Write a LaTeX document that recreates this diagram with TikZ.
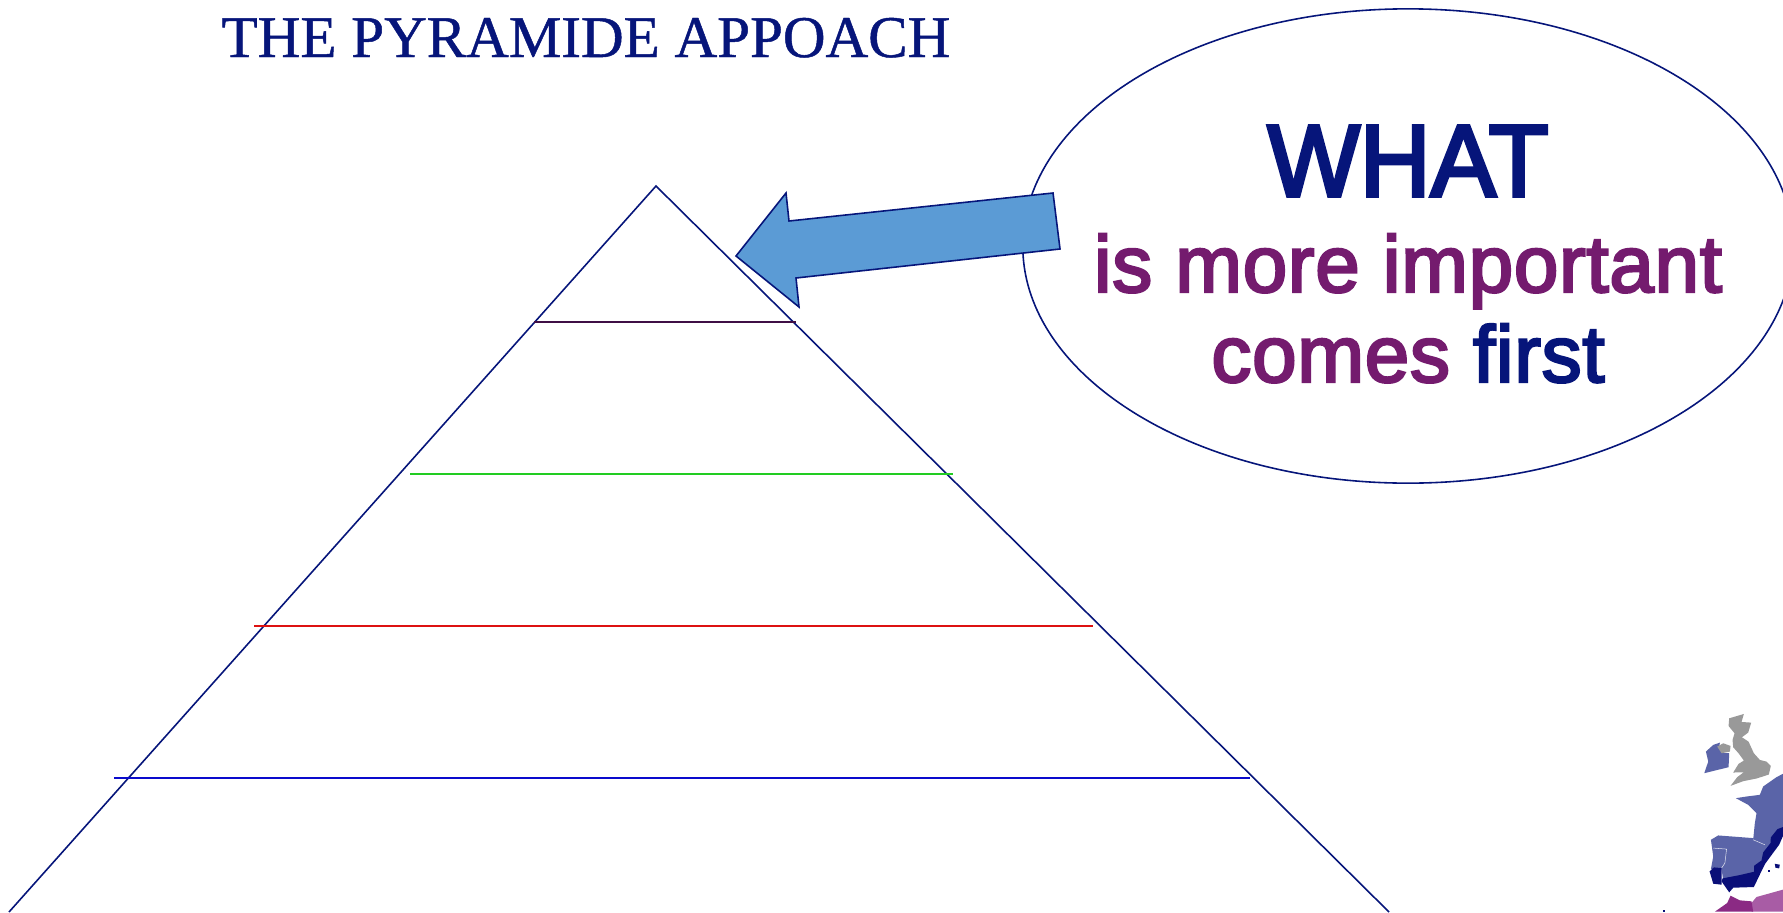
\documentclass[tikz,border=0pt]{standalone}
\usepackage{fontspec}
\setmainfont{Liberation Serif}
\newfontfamily\titlefont[FakeBold=0.8]{Liberation Serif}
\newfontfamily\whatface[FakeStretch=0.96, FakeBold=3.5]{Liberation Sans}
\newfontfamily\calloutfont[FakeBold=3, LetterSpace=0.8]{Liberation Sans}
\usetikzlibrary{positioning, shapes.geometric}
\definecolor{slidenavy}{HTML}{06157A}
\definecolor{slidepurple}{HTML}{741B6E}
\definecolor{arrowblue}{HTML}{5B9BD5}
\definecolor{leveldark}{HTML}{3F0F45}
\definecolor{levelgreen}{HTML}{22CC22}
\definecolor{levelred}{HTML}{DD1111}
\definecolor{levelblue}{HTML}{0A0ACC}
\definecolor{mapgrey}{HTML}{999999}
\definecolor{mapblue}{HTML}{5A64A8}
\definecolor{mapdark}{HTML}{0A0F78}
\definecolor{mapplum}{HTML}{8B2A84}
\definecolor{maplilac}{HTML}{A85CA5}
\tikzset{
  outline/.style={draw=slidenavy, line width=0.45pt},
  level/.style={line width=0.5pt},
  whatfont/.style={font=\whatface\fontsize{29}{29}\selectfont, text=slidenavy},
  linefont/.style={font=\calloutfont\fontsize{22.8}{22.8}\selectfont, text=slidepurple},
  mapborder/.style={draw=white!80!mapblue, line width=0.15pt, line join=round},
}
\begin{document}
\begin{tikzpicture}[x=0.01cm, y=-0.01cm]
  \clip (0,0) rectangle (1783,912);
  \fill [white] (0,0) rectangle (1783,912);
  \node [anchor=base, text=slidenavy, font=\titlefont\fontsize{16.8}{16.8}\selectfont, inner sep=0pt] (title) at (586,57) {THE PYRAMIDE APPOACH};
  \coordinate (apex) at (656,186);
  \coordinate (baseleft) at (9,912);
  \coordinate (baseright) at (1389,912);
  \draw [outline] (baseleft) -- (apex) -- (baseright);
  \draw [level, leveldark] (534,322) -- (796,322);
  \draw [level, levelgreen] (410,474) -- (953,474);
  \draw [level, levelred] (254,626) -- (1093,626);
  \draw [level, levelblue] (114,778) -- (1250,778);
  \node [outline, ellipse, minimum width=7.7cm, minimum height=4.74cm, inner sep=0pt] (bubble) at (1408,246) {};
  \draw [outline, fill=arrowblue, line join=miter] (736,256) -- (786,193) -- (789,221) -- (1053,193) -- (1060,249) -- (796,278) -- (799,307) -- cycle;
  \node [whatfont, anchor=base, inner sep=0pt] (what) at (1408,196) {WHAT};
  \node [linefont, anchor=base, inner sep=0pt] (important) at (1408,292) {is more important};
  \node [linefont, anchor=base, inner sep=0pt] (comes) at (1408,382) {comes \textcolor{slidenavy}{first}};
  \begin{scope}[shift={(1640,690)}, x=0.00333cm, y=-0.00333cm]
    \fill [mapgrey] (268,85) -- (312,72) -- (305,96) -- (334,98) -- (325,128) -- (306,142) -- (326,155) -- (342,190) -- (360,210) -- (380,215) -- (393,228) -- (387,254) -- (350,266) -- (310,274) -- (272,288) -- (292,262) -- (312,247) -- (280,248) -- (296,222) -- (312,212) -- (296,190) -- (280,172) -- (278,150) -- (284,130) -- (266,108) -- cycle;
    \fill [mapblue] (198,185) -- (220,165) -- (240,158) -- (238,172) -- (245,190) -- (268,190) -- (266,232) -- (225,242) -- (193,250) -- (205,215) -- cycle;
    \fill [mapgrey] (232,170) -- (250,160) -- (272,168) -- (270,185) -- (245,190) -- cycle;
    \fill [mapblue] (288,325) -- (320,320) -- (360,315) -- (370,290) -- (410,262) -- (429,252) -- (429,420) -- (415,440) -- (395,465) -- (375,470) -- (340,450) -- (345,400) -- (350,370) -- (325,345) -- cycle;
    \fill [mapblue] (213,450) -- (235,437) -- (340,445) -- (375,462) -- (398,462) -- (372,495) -- (350,555) -- (300,562) -- (250,572) -- (245,538) -- (213,538) -- (220,500) -- cycle;
    \fill [mapdark] (429,412) -- (429,440) -- (418,465) -- (398,492) -- (376,522) -- (366,542) -- (354,567) -- (342,592) -- (280,594) -- (268,608) -- (245,575) -- (248,566) -- (300,556) -- (343,546) -- (343,528) -- (365,512) -- (370,488) -- (392,460) -- (393,443) -- (413,418) -- cycle;
    \fill [mapdark] (222,533) -- (245,535) -- (245,585) -- (220,582) -- (209,545) -- cycle;
    \fill [mapdark] (405,522) -- (420,525) -- (418,536) -- (407,534) -- cycle;
    \fill [mapdark] (385,541) -- (392,541) -- (392,547) -- (385,547) -- cycle;
    \fill [mapdark] (68,660) -- (76,660) -- (76,666) -- (68,666) -- cycle;
    \fill [maplilac] (335,666) -- (335,640) -- (350,622) -- (429,600) -- (429,666) -- cycle;
    \fill [mapplum] (225,666) -- (262,640) -- (272,618) -- (300,632) -- (335,635) -- (340,666) -- cycle;
    \draw [mapborder] (220,475) -- (260,478) -- (255,520) -- (245,535);
    \draw [mapborder] (340,450) -- (375,465);
  \end{scope}
\end{tikzpicture}
\end{document}
